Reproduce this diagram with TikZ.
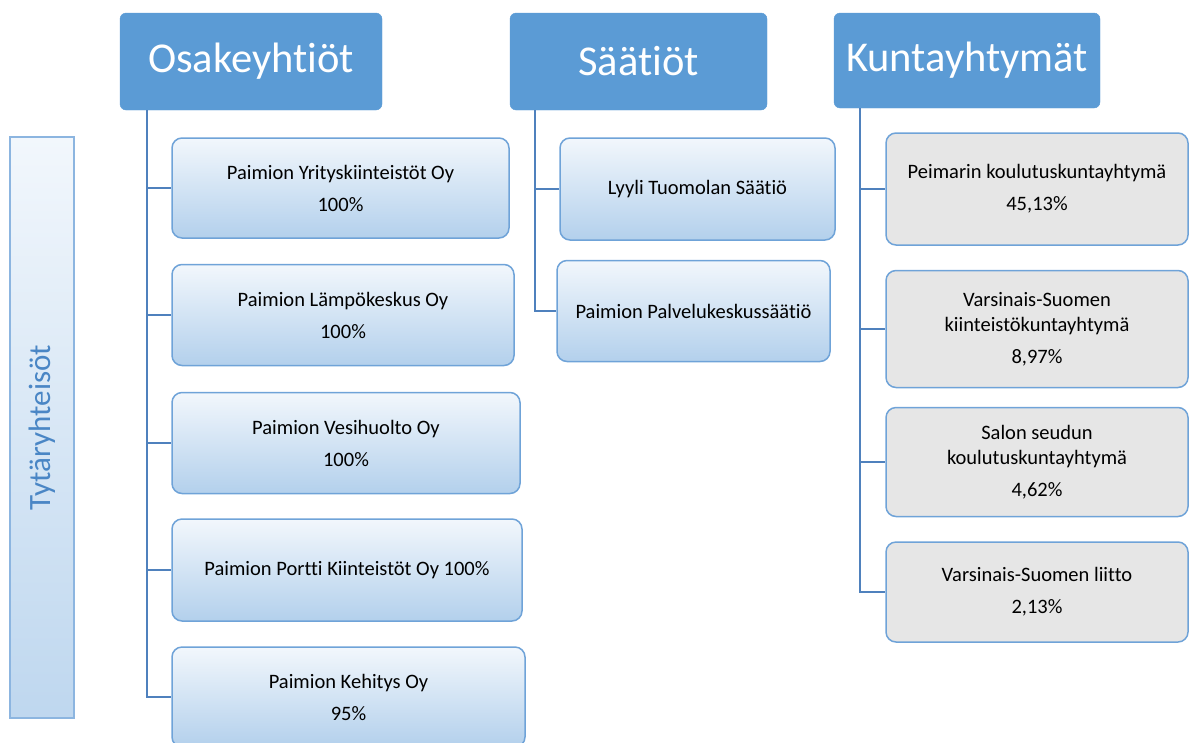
\documentclass[tikz,border=0pt]{standalone}
\usepackage{fontspec}
\setmainfont{Carlito}[Ligatures=NoCommon]
\definecolor{hdr}{HTML}{5B9BD5}
\definecolor{edge}{HTML}{6FA3D8}
\definecolor{conncol}{HTML}{4F81BD}
\definecolor{ltop}{HTML}{F2F7FC}
\definecolor{lbot}{HTML}{B3D0EC}
\definecolor{greyfill}{HTML}{E6E6E6}
\definecolor{sidetxt}{HTML}{4A86C5}
\tikzset{
  hdrbox/.style={draw=hdr, fill=hdr, rounded corners=6pt, inner sep=0pt, text=white,
    font=\fontsize{42.5}{45}\selectfont, align=center},
  childbox/.style={draw=edge, line width=1.5pt, rounded corners=10pt, top color=ltop, bottom color=lbot,
    inner sep=0pt, align=center, font=\fontsize{20.5}{25}\selectfont, text=black},
  greybox/.style={draw=edge, line width=1.5pt, rounded corners=10pt, fill=greyfill,
    inner sep=0pt, align=center, font=\fontsize{20.5}{25}\selectfont, text=black},
  sidebox/.style={draw=edge!80, line width=1.5pt, top color=ltop, bottom color=lbot!85,
    inner sep=0pt},
  conn/.style={draw=conncol, line width=2pt}
}
\begin{document}
\begin{tikzpicture}[x=1pt,y=-1pt]
\useasboundingbox (0,0) rectangle (1190,742);
% side label
\node[sidebox, minimum width=64pt, minimum height=581pt] (side) at (42,427.5) {};
\node[rotate=90, text=sidetxt, font=\fontsize{31}{34}\selectfont] (sidelbl) at (side.center) {Tytäryhteisöt};
% headers
\node[hdrbox, minimum width=262pt, minimum height=97pt] (osa) at (251,61.5) {Osakeyhtiöt};
\node[hdrbox, minimum width=257pt, minimum height=97pt] (saa) at (638.5,61.5) {Säätiöt};
\node[hdrbox, minimum width=266pt, minimum height=95pt] (kun) at (967,60.5) {Kuntayhtymät};
% Osakeyhtiöt children
\node[childbox, minimum width=337pt, minimum height=100pt] (o1) at (340.5,188) {Paimion Yrityskiinteistöt Oy\\[7pt]100\%};
\node[childbox, minimum width=342pt, minimum height=101pt] (o2) at (343,315) {Paimion Lämpökeskus Oy\\[7pt]100\%};
\node[childbox, minimum width=348pt, minimum height=101pt] (o3) at (346,443) {Paimion Vesihuolto Oy\\[7pt]100\%};
\node[childbox, minimum width=350pt, minimum height=102pt] (o4) at (347,570) {Paimion Portti Kiinteistöt Oy 100\%};
\node[childbox, minimum width=353pt, minimum height=100pt] (o5) at (348.5,697) {Paimion Kehitys Oy\\[7pt]95\%};
% Säätiöt children
\node[childbox, minimum width=275pt, minimum height=102pt] (s1) at (697.5,189) {Lyyli Tuomolan Säätiö};
\node[childbox, minimum width=273pt, minimum height=101pt] (s2) at (693.5,311) {Paimion Palvelukeskussäätiö};
% Kuntayhtymät children
\node[greybox, minimum width=302pt, minimum height=112pt] (k1) at (1037,189) {Peimarin koulutuskuntayhtymä\\[7pt]45,13\%};
\node[greybox, minimum width=302pt, minimum height=117pt] (k2) at (1037,329) {Varsinais-Suomen\\kiinteistökuntayhtymä\\[7pt]8,97\%};
\node[greybox, minimum width=302pt, minimum height=109pt] (k3) at (1037,462) {Salon seudun\\koulutuskuntayhtymä\\[7pt]4,62\%};
\node[greybox, minimum width=302pt, minimum height=100pt] (k4) at (1037,592) {Varsinais-Suomen liitto\\[7pt]2,13\%};
% connectors
\coordinate (ot) at ([xshift=27pt]osa.south west);
\coordinate (st) at ([xshift=25pt]saa.south west);
\coordinate (kt) at ([xshift=26pt]kun.south west);
\foreach \c in {o1,o2,o3,o4,o5} \draw[conn] (ot) |- (\c.west);
\foreach \c in {s1,s2} \draw[conn] (st) |- (\c.west);
\foreach \c in {k1,k2,k3,k4} \draw[conn] (kt) |- (\c.west);
\end{tikzpicture}
\end{document}
